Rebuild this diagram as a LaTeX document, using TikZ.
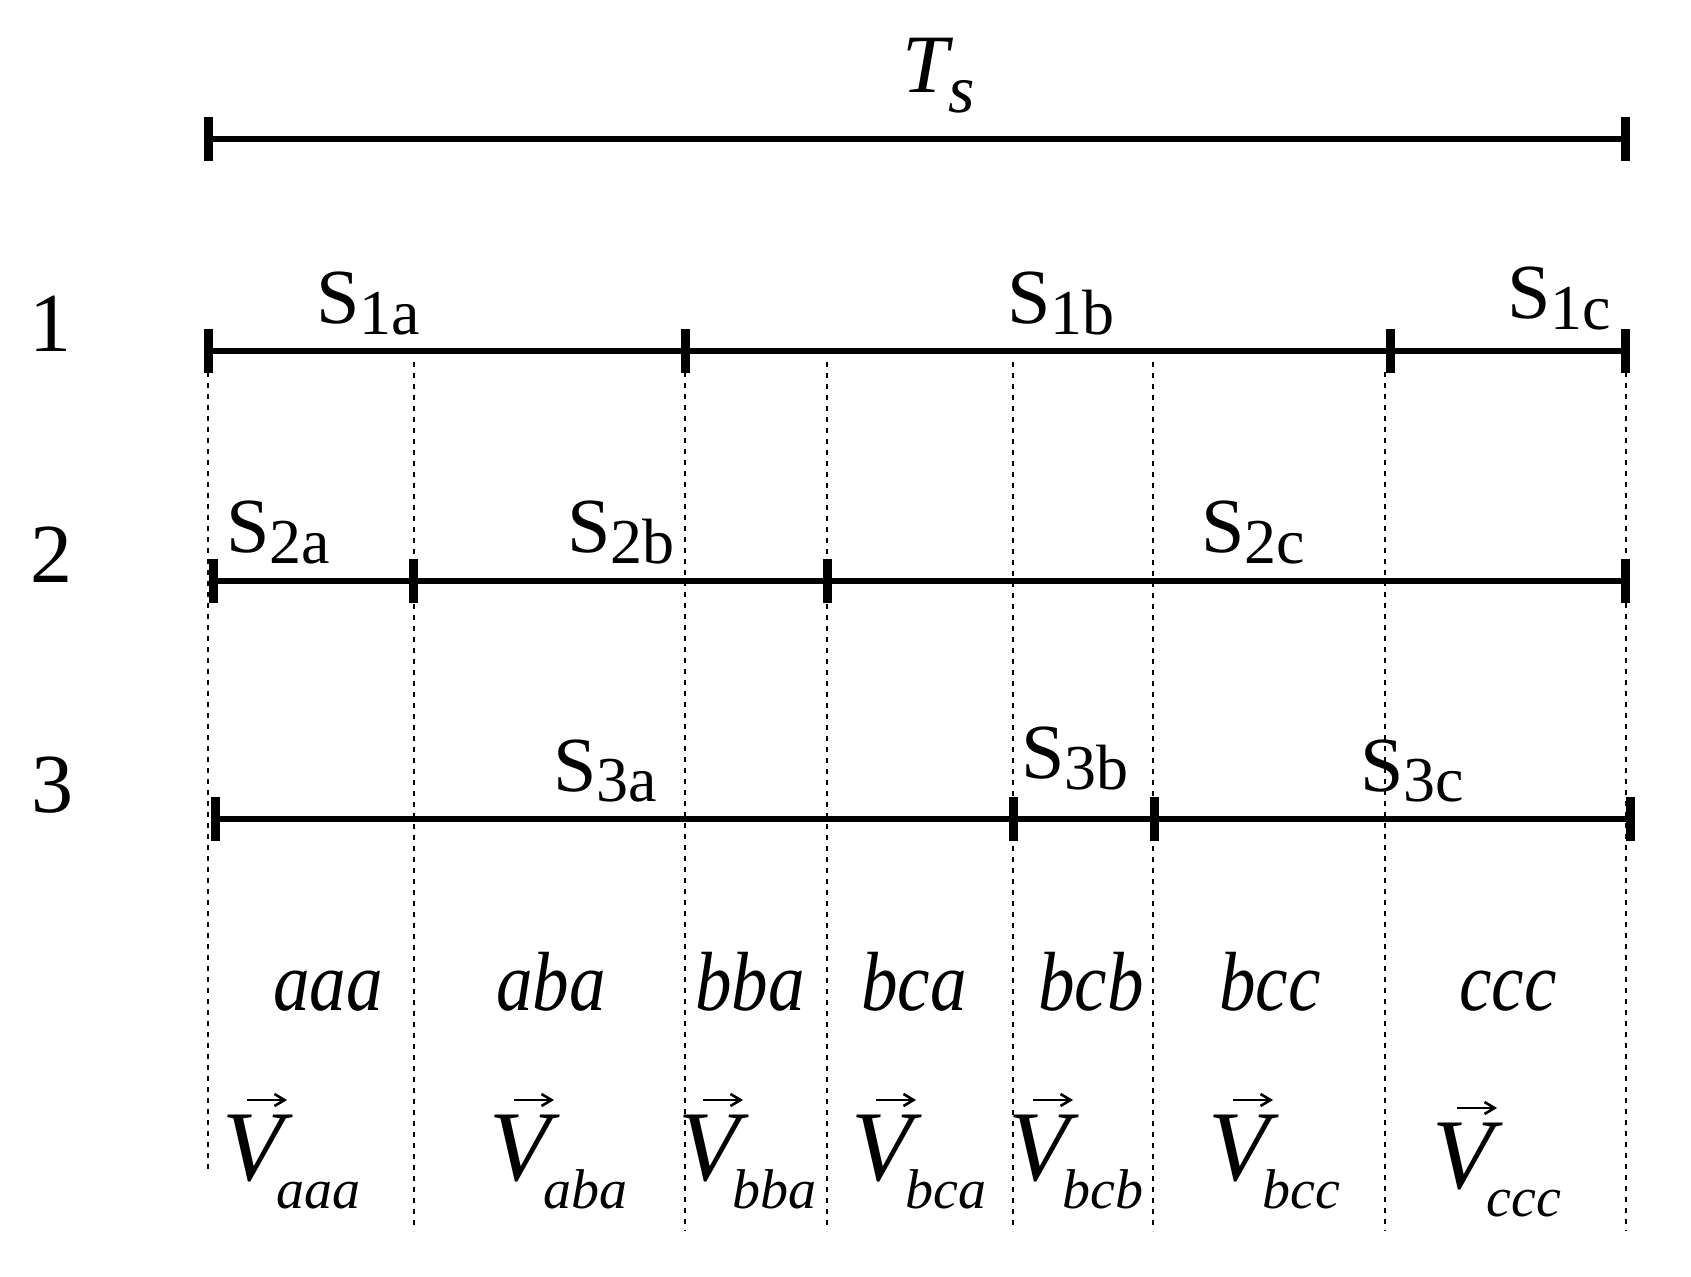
\documentclass[tikz,border=0pt]{standalone}
\usepackage{fontspec}
\usepackage{graphicx}
\usetikzlibrary{arrows.meta}
\setmainfont{Liberation Serif}
\newcommand\Slab[1]{S\raisebox{-5.5pt}{\fontsize{32}{32}\selectfont #1}}
\newcommand\Vlab[1]{{\itshape V}\kern-3.5pt\raisebox{-14pt}{\fontsize{28}{28}\selectfont\itshape #1}}
\newcommand\Ilab[1]{\scalebox{0.87}[1]{#1}}
\begin{document}
\begin{tikzpicture}[x=0.5pt,y=-0.5pt,
  seg/.style={line width=3pt,draw=black},
  tk/.style={rectangle,fill=black,inner sep=0pt,minimum width=4.5pt,minimum height=22pt},
  guide/.style={line width=1pt,dash pattern=on 2.5pt off 3pt,draw=black},
  vecarrow/.style={line width=1.3pt,-{Straight Barb[length=5pt,width=6pt,line width=1.3pt]}},
  slbl/.style={inner sep=0pt,anchor=base west,font=\fontsize{39}{39}\selectfont},
  rowlbl/.style={inner sep=0pt,anchor=base,font=\fontsize{42}{42}\selectfont},
  ilbl/.style={inner sep=0pt,anchor=base,font=\fontsize{42}{42}\selectfont\itshape},
  vlbl/.style={inner sep=0pt,anchor=base west,font=\fontsize{50}{50}\selectfont}]
\useasboundingbox (0,0) rectangle (1691,1277);
% guides
\coordinate (g0t) at (208,372); \coordinate (g0b) at (208,1172);
\coordinate (g1t) at (414,362); \coordinate (g1b) at (414,1231);
\coordinate (g2t) at (685,372); \coordinate (g2b) at (685,1231);
\coordinate (g3t) at (827,362); \coordinate (g3b) at (827,1231);
\coordinate (g4t) at (1013,362); \coordinate (g4b) at (1013,1231);
\coordinate (g5t) at (1153,362); \coordinate (g5b) at (1153,1231);
\coordinate (g6t) at (1385,372); \coordinate (g6b) at (1385,1231);
\coordinate (g7t) at (1626,372); \coordinate (g7b) at (1626,1231);
\foreach \i in {0,...,7} \draw[guide] (g\i t) -- (g\i b);
% Ts
\node[tk] (t0a) at (208,139) {};
\node[tk] (t0b) at (1625,139) {};
\draw[seg] (t0a.center) -- (t0b.center);
\node[inner sep=0pt,anchor=base west,font=\fontsize{41.5}{41.5}\selectfont\itshape] (ts) at (902,93) {T\raisebox{-10pt}{\fontsize{34}{34}\selectfont s}};
% row 1
\node[tk] (r1a) at (208,351) {};
\node[tk] (r1b) at (685,351) {};
\node[tk] (r1c) at (1390,351) {};
\node[tk] (r1d) at (1625,351) {};
\draw[seg] (r1a.center) -- (r1d.center);
% row 2
\node[tk] (r2a) at (213,581) {};
\node[tk] (r2b) at (413,581) {};
\node[tk] (r2c) at (827,581) {};
\node[tk] (r2d) at (1625,581) {};
\draw[seg] (r2a.center) -- (r2d.center);
% row 3
\node[tk] (r3a) at (215,819) {};
\node[tk] (r3b) at (1013,819) {};
\node[tk] (r3c) at (1154,819) {};
\node[tk] (r3d) at (1630,819) {};
\draw[seg] (r3a.center) -- (r3d.center);
% row numbers
\node[rowlbl] (n1) at (50,352) {1};
\node[rowlbl] (n2) at (52,583) {2};
\node[rowlbl] (n3) at (53,812) {3};
% S labels
\node[slbl] (s1a) at (316,324) {\Slab{1a}};
\node[slbl] (s1b) at (1007,324) {\Slab{1b}};
\node[slbl] (s1c) at (1507,319) {\Slab{1c}};
\node[slbl] (s2a) at (226,553) {\Slab{2a}};
\node[slbl] (s2b) at (567,553) {\Slab{2b}};
\node[slbl] (s2c) at (1201,553) {\Slab{2c}};
\node[slbl] (s3a) at (553,791) {\Slab{3a}};
\node[slbl] (s3b) at (1021,778) {\Slab{3b}};
\node[slbl] (s3c) at (1360,791) {\Slab{3c}};
% state labels
\node[ilbl] (i1) at (328,1010) {\Ilab{aaa}};
\node[ilbl] (i2) at (551,1010) {\Ilab{aba}};
\node[ilbl] (i3) at (750,1010) {\Ilab{bba}};
\node[ilbl] (i4) at (914,1010) {\Ilab{bca}};
\node[ilbl] (i5) at (1091,1010) {\Ilab{bcb}};
\node[ilbl] (i6) at (1270,1010) {\Ilab{bcc}};
\node[ilbl] (i7) at (1508,1010) {\Ilab{ccc}};
% vectors
\node[vlbl] (v1) at (222,1180) {\Vlab{aaa}};
\node[vlbl] (v2) at (489,1180) {\Vlab{aba}};
\node[vlbl] (v3) at (678,1180) {\Vlab{bba}};
\node[vlbl] (v4) at (851,1180) {\Vlab{bca}};
\node[vlbl] (v5) at (1008,1180) {\Vlab{bcb}};
\node[vlbl] (v6) at (1208,1180) {\Vlab{bcc}};
\node[vlbl] (v7) at (1432,1188) {\Vlab{ccc}};
\foreach \v in {v1,v2,v3,v4,v5,v6,v7}
  \draw[vecarrow] ([shift={(25,-80)}]\v.base west) -- ++(40,0);
\end{tikzpicture}
\end{document}
